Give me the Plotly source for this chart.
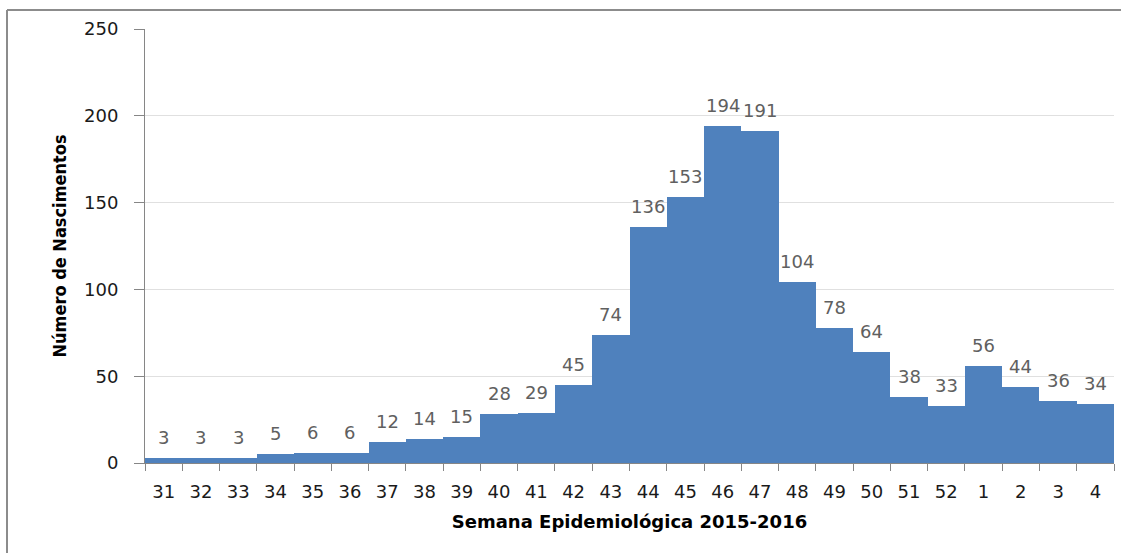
import plotly.graph_objects as go

weeks = ["31", "32", "33", "34", "35", "36", "37", "38", "39", "40", "41", "42", "43",
         "44", "45", "46", "47", "48", "49", "50", "51", "52", "1", "2", "3", "4"]
births = [3, 3, 3, 5, 6, 6, 12, 14, 15, 28, 29, 45, 74,
          136, 153, 194, 191, 104, 78, 64, 38, 33, 56, 44, 36, 34]
y_ticks = [0, 50, 100, 150, 200, 250]

x_title = "Semana Epidemiológica 2015-2016"
y_title = "Número de Nascimentos"

fig = go.Figure()
fig.add_trace(go.Bar(
    x=weeks, y=births, width=1.0,
    marker=dict(color="#4F81BD", line=dict(width=0)),
    hoverinfo="x+y",
))

# data labels: category axis positions are given by index
for i, v in enumerate(births):
    fig.add_annotation(
        x=i, y=v, xref="x", yref="y", text=str(v), showarrow=False,
        yanchor="bottom", yshift=8,
        font=dict(family="DejaVu Sans", size=18, color="#606060"),
    )

L, R, T, B = 145, 7, 29, 90
W, H = 1121, 553
pw = W - L - R
ph = H - T - B

fig.update_layout(
    width=W, height=H,
    margin=dict(l=L, r=R, t=T, b=B, autoexpand=False),
    paper_bgcolor="white", plot_bgcolor="white",
    showlegend=False,
    bargap=0,
    xaxis=dict(
        type="category", categoryorder="array", categoryarray=weeks,
        tickson="boundaries", ticks="outside", ticklen=7,
        tickcolor="#868686", showline=True, linecolor="#868686", linewidth=1,
        ticklabelstandoff=12,
        tickfont=dict(family="DejaVu Sans", size=18, color="#1a1a1a"),
        title=dict(text=x_title, font=dict(family="DejaVu Sans", size=18, color="#000000", weight="bold"),
                   standoff=14),
        showgrid=False, range=[-0.5, len(weeks) - 0.5],
    ),
    yaxis=dict(
        range=[0, 250], tickvals=y_ticks, ticks="outside", ticklen=10,
        tickcolor="#868686", showline=True, linecolor="#868686", linewidth=1,
        ticklabelstandoff=12,
        showgrid=True, gridcolor="#E0E0E0", gridwidth=1,
        tickfont=dict(family="DejaVu Sans", size=18, color="#1a1a1a"),
        title=dict(text=y_title, font=dict(family="DejaVu Sans Condensed", size=18, color="#000000", weight="bold"),
                   standoff=12),
        zeroline=False,
    ),
)

# outer chart border (top and left edges visible in the reference)
bx0 = (7 - L) / pw
by1 = 1 + (T - 10) / ph
fig.add_shape(type="line", xref="paper", yref="paper", x0=bx0, x1=1 + R / pw,
              y0=by1, y1=by1, line=dict(color="#8c8c8c", width=2))
fig.add_shape(type="line", xref="paper", yref="paper", x0=bx0, x1=bx0,
              y0=by1, y1=-B / ph, line=dict(color="#8c8c8c", width=2))

fig.write_html("out.html", config={"displayModeBar": False},
               post_script="document.body.style.margin='0';document.body.style.padding='0';")
